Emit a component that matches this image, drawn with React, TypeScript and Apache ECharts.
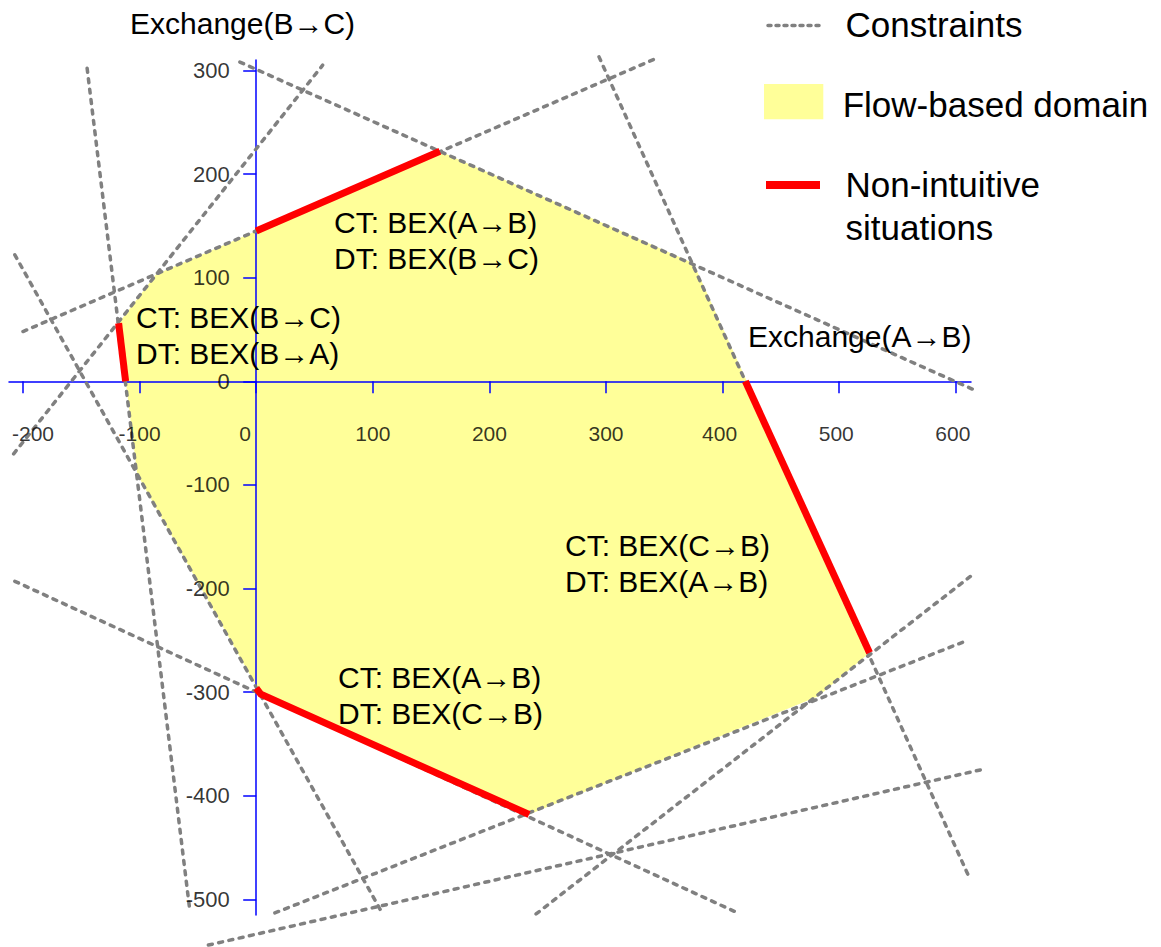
import React, { useEffect, useRef } from 'react';
import * as echarts from 'echarts';

// ---- data (Exchange A→B on x, Exchange B→C on y) ----
const xTickValues = [-200, -100, 0, 100, 200, 300, 400, 500, 600];
const yTickValues = [-500, -400, -300, -200, -100, 0, 100, 200, 300];

// each constraint drawn as a segment between two end points
const constraintLines = [
  [[-145, 302], [-57, -510]],
  [[-207, 122], [108, -513]],
  [[-208, -70], [57, 305]],
  [[-200, 48], [344, 312]],
  [[-14, 308], [619, -10]],
  [[294, 313], [612, -480]],
  [[-207, -193], [413, -513]],
  [[16, -513], [610, -250]],
  [[-41, -544], [621, -375]],
  [[240, -514], [614, -187]],
];

// flow-based domain polygon vertices
const domainVertices = [
  [157.5, 222],
  [375, 114],
  [526, -262],
  [482, -304],
  [234, -418],
  [4, -302],
  [-102, -90],
  [-118, 56],
  [-86, 103],
];

// non-intuitive parts of the domain border
const nonIntuitiveSegments = [
  [[0, 145], [157.5, 222]],
  [[-118, 56], [-112, 0]],
  [[419.5, 0], [526, -262]],
  [[0, -296], [4, -302], [234, -418]],
];

const annotationTexts = [
  ['CT: BEX(A→B)', 'DT: BEX(B→C)'],
  ['CT: BEX(B→C)', 'DT: BEX(B→A)'],
  ['CT: BEX(C→B)', 'DT: BEX(A→B)'],
  ['CT: BEX(A→B)', 'DT: BEX(C→B)'],
];

const axisNames = ['Exchange(A→B)', 'Exchange(B→C)'];
const legendLabels = ['Constraints', 'Flow-based domain', 'Non-intuitive\nsituations'];

const FONT = '"Liberation Sans", Arial, Helvetica, sans-serif';
const YELLOW = '#FFFF99';
const GREY = '#808080';
const RED = '#FF0000';
const BLUE = '#0000FF';

export default function App() {
  const ref = useRef<HTMLDivElement>(null);

  useEffect(() => {
    if (!ref.current) return;
    const chart = echarts.init(ref.current, null, { renderer: 'svg' });

    const annotationPos = [
      [334, 240.5],
      [136, 335.5],
      [565, 563.5],
      [338, 695],
    ];

    const textEl = (text: string, x: number, y: number, size: number, lineHeight?: number) => ({
      type: 'text',
      x,
      y,
      z: 100,
      silent: true,
      style: {
        text,
        fill: '#000',
        fontSize: size,
        fontFamily: FONT,
        verticalAlign: 'middle',
        align: 'left',
        lineHeight: lineHeight ?? size,
      },
    });

    const graphic: any[] = [
      textEl(axisNames[1], 130, 23.3, 30),
      textEl(axisNames[0], 748, 336.7, 30),
      ...annotationTexts.map((t, i) =>
        textEl(t.join('\n'), annotationPos[i][0], annotationPos[i][1], 30, 36)
      ),
      // legend
      {
        type: 'line',
        z: 100,
        silent: true,
        shape: { x1: 768, y1: 25.5, x2: 819, y2: 25.5 },
        style: { stroke: GREY, lineWidth: 3.5, lineDash: [3, 5], lineCap: 'round' },
      },
      textEl(legendLabels[0], 845.5, 24.5, 35),
      {
        type: 'rect',
        z: 100,
        silent: true,
        shape: { x: 764, y: 84, width: 59.3, height: 35.3 },
        style: { fill: YELLOW },
      },
      textEl(legendLabels[1], 842.7, 104, 35),
      {
        type: 'line',
        z: 100,
        silent: true,
        shape: { x1: 766, y1: 185, x2: 820, y2: 185 },
        style: { stroke: RED, lineWidth: 8 },
      },
      textEl(legendLabels[2], 845.5, 206, 35, 42.5),
    ];

    const xLabelShift = (v: number) => (v === 0 ? -11 : v === -200 ? 10 : v >= 400 ? -3 : 0);

    const option: any = {
      animation: false,
      backgroundColor: '#fff',
      grid: { left: 9, right: 190, top: 60, bottom: 32, containLabel: false, outerBoundsMode: 'none' },
      xAxis: {
        type: 'value',
        min: -212,
        max: 613,
        z: 2,
        axisLine: { show: true, onZero: true, lineStyle: { color: BLUE, width: 1.5 } },
        axisTick: { show: true, inside: false, length: 12, customValues: xTickValues, lineStyle: { color: BLUE, width: 1.5 } },
        axisLabel: { show: false, customValues: xTickValues },
        splitLine: { show: false },
      },
      yAxis: {
        type: 'value',
        min: -515,
        max: 310,
        z: 2,
        axisLine: { show: true, onZero: true, lineStyle: { color: BLUE, width: 1.5 } },
        axisTick: { show: true, inside: false, length: 13, customValues: yTickValues, lineStyle: { color: BLUE, width: 1.5 } },
        axisLabel: { show: false, customValues: yTickValues },
        splitLine: { show: false },
      },
      series: [
        {
          type: 'custom',
          name: 'Flow-based domain',
          z: 1,
          silent: true,
          clip: false,
          data: [[0, 0]],
          renderItem: (_p: any, api: any) => ({
            type: 'polygon',
            shape: { points: domainVertices.map((p) => api.coord(p)) },
            style: { fill: YELLOW },
          }),
        },
        {
          type: 'lines',
          name: 'Constraints',
          coordinateSystem: 'cartesian2d',
          z: 3,
          silent: true,
          clip: false,
          data: constraintLines.map((c) => ({ coords: c })),
          lineStyle: { color: GREY, width: 3.5, type: [4, 6.5], cap: 'round', opacity: 1 },
        },
        {
          type: 'lines',
          name: 'Non-intuitive situations',
          coordinateSystem: 'cartesian2d',
          polyline: true,
          z: 4,
          silent: true,
          clip: false,
          data: nonIntuitiveSegments.map((c) => ({ coords: c })),
          lineStyle: { color: RED, width: 7, opacity: 1, cap: 'butt', join: 'miter' },
        },
        {
          // x-axis tick labels, placed through the axes' scales
          type: 'scatter',
          name: 'xTickLabels',
          z: 5,
          silent: true,
          clip: false,
          symbolSize: 0.1,
          itemStyle: { color: 'rgba(0,0,0,0)' },
          data: xTickValues.map((v) => ({
            value: [v, 0],
            label: { offset: [xLabelShift(v), 52] },
          })),
          label: {
            show: true,
            position: 'inside',
            align: 'center',
            verticalAlign: 'middle',
            color: '#000',
            fontSize: 21,
            fontFamily: FONT,
            formatter: (p: any) => String(p.value[0]),
          },
        },
        {
          // y-axis tick labels
          type: 'scatter',
          name: 'yTickLabels',
          z: 5,
          silent: true,
          clip: false,
          symbolSize: 0.1,
          itemStyle: { color: 'rgba(0,0,0,0)' },
          data: yTickValues.map((v) => ({ value: [0, v] })),
          label: {
            show: true,
            position: 'inside',
            align: 'right',
            verticalAlign: 'middle',
            offset: [-26.5, 0],
            color: '#000',
            fontSize: 22,
            fontFamily: FONT,
            formatter: (p: any) => String(p.value[1]),
          },
        },
      ],
      graphic,
    };

    chart.setOption(option);
    return () => chart.dispose();
  }, []);

  return (
    <div
      ref={ref}
      style={{ position: 'absolute', left: 0, top: 0, width: 1161, height: 947 }}
    />
  );
}
